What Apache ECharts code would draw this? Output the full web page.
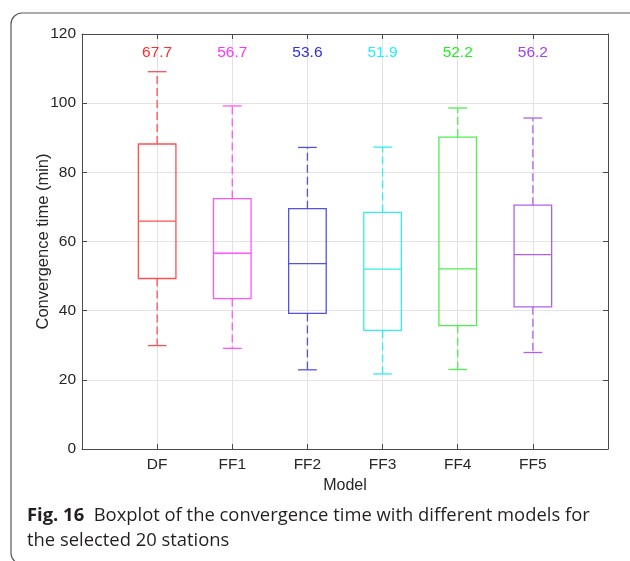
<!DOCTYPE html>
<html><head><meta charset="utf-8">
<script src="https://cdn.jsdelivr.net/npm/echarts@6/dist/echarts.min.js"></script>
<style>html,body{margin:0;padding:0;background:#fff}#c{width:630px;height:561px}</style>
</head><body><div id="c"></div>
<script>
const models = ['DF', 'FF1', 'FF2', 'FF3', 'FF4', 'FF5'];
const whiskerLow = [29.9, 29.1, 22.9, 21.7, 23.0, 27.9];
const q1 = [49.3, 43.5, 39.2, 34.3, 35.7, 41.1];
const median = [65.9, 56.6, 53.6, 52.0, 52.1, 56.2];
const q3 = [88.2, 72.4, 69.5, 68.4, 90.2, 70.5];
const whiskerHigh = [109.1, 99.2, 87.2, 87.3, 98.6, 95.7];
const topLabels = ['67.7', '56.7', '53.6', '51.9', '52.2', '56.2'];
const yTicks = [0, 20, 40, 60, 80, 100, 120];

const boxColors = ['#ff5050', '#ff55ff', '#5252e6', '#33eeee', '#50ee50', '#b060ee'];
const labelColors = ['#ff2a2a', '#ff33ff', '#2e2ee0', '#22eeff', '#22ee22', '#a640ee'];
const LABEL_Y = 114.6;
const FONT = '"Liberation Sans", Arial, Helvetica, sans-serif';
const CAP_FONT = '"Open Sans", "Noto Sans", sans-serif';

const data = models.map((m, i) => [i + 1, whiskerLow[i], q1[i], median[i], q3[i], whiskerHigh[i]]);

function renderItem(params, api) {
  const x = api.value(0);
  const i = params.dataIndex;
  const col = boxColors[i];
  const pLo = api.coord([x, api.value(1)]);
  const pA = api.coord([x, api.value(2)]);
  const pM = api.coord([x, api.value(3)]);
  const pB = api.coord([x, api.value(4)]);
  const pHi = api.coord([x, api.value(5)]);
  const pT = api.coord([x, LABEL_Y]);
  const half = api.size([0.25, 0])[0];
  const cap = api.size([0.125, 0])[0];
  const cx = pLo[0];
  const lw = 1.3;
  const solid = { stroke: col, lineWidth: lw, fill: null };
  const dashed = { stroke: col, lineWidth: lw, fill: null, lineDash: [8, 4] };
  return {
    type: 'group',
    children: [
      { type: 'line', shape: { x1: cx, y1: pA[1], x2: cx, y2: pLo[1] }, style: dashed },
      { type: 'line', shape: { x1: cx, y1: pB[1], x2: cx, y2: pHi[1] }, style: dashed },
      { type: 'line', shape: { x1: cx - cap, y1: pLo[1], x2: cx + cap, y2: pLo[1] }, style: solid },
      { type: 'line', shape: { x1: cx - cap, y1: pHi[1], x2: cx + cap, y2: pHi[1] }, style: solid },
      { type: 'rect', shape: { x: cx - half, y: pB[1], width: 2 * half, height: pA[1] - pB[1] }, style: solid },
      { type: 'line', shape: { x1: cx - half, y1: pM[1], x2: cx + half, y2: pM[1] }, style: solid },
      { type: 'text', x: cx, y: pT[1], style: { text: topLabels[i], fill: labelColors[i], font: '15.5px ' + FONT, align: 'center', verticalAlign: 'middle' } }
    ]
  };
}

const axisLineStyle = { color: '#4a4a4a', width: 1 };
const gridLine = { show: true, lineStyle: { color: '#e3e3e3', width: 1 } };

const chart = echarts.init(document.getElementById('c'), null, { renderer: 'canvas' });
chart.setOption({
  backgroundColor: '#fff',
  animation: false,
  grid: { left: 82, top: 34, right: 22, bottom: 112, containLabel: false },
  xAxis: [
    {
      type: 'value', min: 0, max: 7, interval: 1, position: 'bottom',
      name: 'Model', nameLocation: 'middle', nameGap: 29, nameMoveOverlap: false,
      nameTextStyle: { fontSize: 16, color: '#262626', fontFamily: FONT },
      axisLine: { show: true, onZero: false, lineStyle: axisLineStyle },
      axisTick: { show: true, inside: true, length: 5, lineStyle: axisLineStyle },
      axisLabel: { margin: 8, fontSize: 15.5, color: '#262626', fontFamily: FONT, formatter: v => models[v - 1] || '' },
      splitLine: gridLine
    },
    {
      type: 'value', min: 0, max: 7, interval: 1, position: 'top',
      axisLine: { show: true, onZero: false, lineStyle: axisLineStyle },
      axisTick: { show: true, inside: true, length: 5, lineStyle: axisLineStyle },
      axisLabel: { show: false }, splitLine: { show: false }
    }
  ],
  yAxis: [
    {
      type: 'value', min: yTicks[0], max: yTicks[yTicks.length - 1], interval: 20, position: 'left',
      name: 'Convergence time (min)', nameLocation: 'middle', nameGap: 30, nameMoveOverlap: false,
      nameTextStyle: { fontSize: 16.5, color: '#262626', fontFamily: FONT },
      axisLine: { show: true, onZero: false, lineStyle: axisLineStyle },
      axisTick: { show: true, inside: true, length: 5, lineStyle: axisLineStyle },
      axisLabel: { margin: 6, fontSize: 15.5, color: '#262626', fontFamily: FONT },
      splitLine: gridLine
    },
    {
      type: 'value', min: yTicks[0], max: yTicks[yTicks.length - 1], interval: 20, position: 'right',
      axisLine: { show: true, onZero: false, lineStyle: axisLineStyle },
      axisTick: { show: true, inside: true, length: 5, lineStyle: axisLineStyle },
      axisLabel: { show: false }, splitLine: { show: false }
    }
  ],
  series: [{
    type: 'custom', xAxisIndex: 0, yAxisIndex: 0,
    renderItem: renderItem, data: data, clip: false
  }],
  graphic: [
    { type: 'rect', left: 8.5, top: 10.5, shape: { x: 0, y: 0, width: 650, height: 551, r: 11 }, style: { fill: null, stroke: '#5a5a5a', lineWidth: 1.2 }, silent: true },
    { type: 'text', left: 27, top: 507, style: { rich: { b: { font: 'bold 18.4px ' + CAP_FONT, fill: '#231f20' }, n: { font: '18.4px ' + CAP_FONT, fill: '#231f20' } }, text: '{b|Fig. 16}{n|  Boxplot of the convergence time with different models for}' } },
    { type: 'text', left: 27, top: 532, style: { text: 'the selected 20 stations', font: '18.4px ' + CAP_FONT, fill: '#231f20' } }
  ]
});
</script></body></html>
